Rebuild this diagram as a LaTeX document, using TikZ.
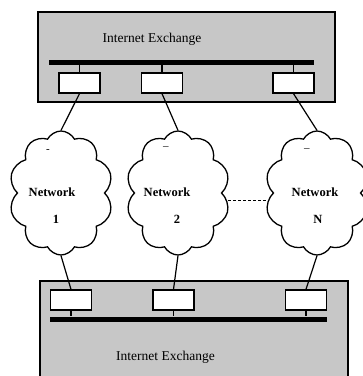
\documentclass[tikz,border=0pt]{standalone}
\usepackage{fontspec}
\setmainfont{Liberation Serif}
\usetikzlibrary{shapes.symbols, calc}
\colorlet{ixfill}{black!22}

\begin{document}
\begin{tikzpicture}[
    x=1pt, y=-1pt,
    line width=1.2pt,
    exchange/.style={draw, fill=ixfill, line width=1.4pt, inner sep=0pt},
    port/.style={draw, fill=white, line width=1.3pt, minimum width=41pt,
                 minimum height=20pt, inner sep=0pt},
    bus/.style={fill=black, inner sep=0pt, minimum height=5pt},
    net/.style={cloud, cloud puffs=10, cloud puff arc=125, draw,
                line width=1.3pt, minimum width=104pt, minimum height=124pt,
                inner sep=0pt},
    netlabel/.style={font=\fontsize{12.5}{13}\selectfont\bfseries},
    ixlabel/.style={font=\fontsize{13.5}{15}\selectfont},
    tick/.style={font=\fontsize{11}{12}\selectfont},
]
\useasboundingbox (0,0) rectangle (363,376);

% TOP exchange
\node[exchange, minimum width=297pt, minimum height=90pt] (ixtop) at (186.5,57) {};
\node[ixlabel] (ixtoplabel) at (152,39) {Internet Exchange};
\node[bus, minimum width=265pt] (bustop) at (181.5,62) {};
\node[port] (t1) at (79.5,83) {};
\node[port] (t2) at (162,83) {};
\node[port] (t3) at (293.5,83) {};
\foreach \p in {t1,t2,t3}
    \draw (\p.north) -- (\p.north |- bustop.south);

% BOTTOM exchange (runs off the page)
\node[exchange, minimum width=308pt, minimum height=110pt] (ixbot) at (194,336) {};
\node[ixlabel] (ixbotlabel) at (165.5,357) {Internet Exchange};
\node[bus, minimum width=277pt] (busbot) at (188.5,319) {};
\node[port] (b1) at (71,300) {};
\node[port] (b2) at (173.5,300) {};
\node[port] (b3) at (306,300) {};
\foreach \p in {b1,b2,b3}
    \draw (\p.south) -- (\p.south |- busbot.north);

% the networks
\node[net] (n1) at (61,193) {};
\node[net] (n2) at (178,193) {};
\node[net] (n3) at (317,193) {};

\node[netlabel] (n1name) at (52,192) {Network};
\node[netlabel] (n1num) at (56,219) {1};
\node[tick] (n1tick) at (48,151) {-};
\node[netlabel] (n2name) at (167,192) {Network};
\node[netlabel] (n2num) at (177,219) {2};
\node[tick] (n2tick) at (166,148) {\textendash};
\node[netlabel] (n3name) at (315,192) {Network};
\node[netlabel] (n3num) at (318,219) {N};
\node[tick] (n3tick) at (307,150) {\textendash};

% links
\draw (t1.south) -- (n1.north);
\draw (t2.south) -- (n2.north);
\draw (t3.south) -- (n3.north);
\draw (n1.south) -- (b1.north);
\draw (n2.south) -- (b2.north);
\draw (n3.south) -- (b3.north);
\draw[densely dashed, line width=1pt, shorten <=6pt, shorten >=6pt]
    (n2.east |- 0,200) -- (n3.west |- 0,200);

\end{tikzpicture}
\end{document}
